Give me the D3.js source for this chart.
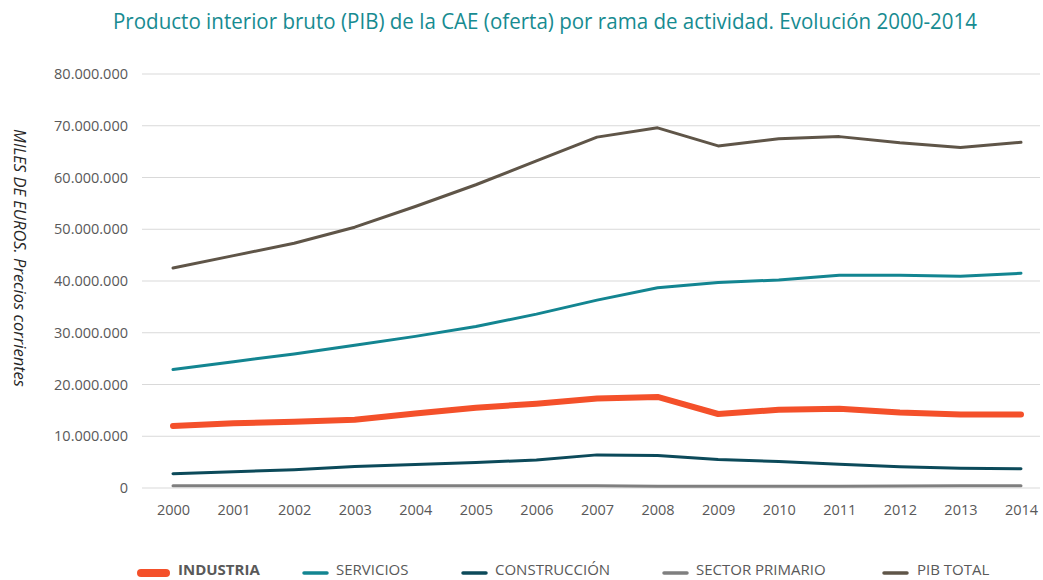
<!DOCTYPE html>
<html><head><meta charset="utf-8">
<script src="https://cdn.jsdelivr.net/npm/d3@7"></script>
<style>
body{margin:0;background:#fff;}
svg text{font-family:"Open Sans",sans-serif;}
</style></head>
<body><svg id="c" width="1043" height="580"></svg>
<script>
const years = [2000,2001,2002,2003,2004,2005,2006,2007,2008,2009,2010,2011,2012,2013,2014];
const industria = [12.0,12.5,12.8,13.2,14.4,15.5,16.3,17.3,17.6,14.3,15.1,15.3,14.6,14.2,14.2].map(v=>v*1e6);
const servicios = [22.9,24.4,25.9,27.6,29.3,31.2,33.6,36.3,38.7,39.7,40.2,41.1,41.1,40.9,41.5].map(v=>v*1e6);
const construccion = [2.77,3.15,3.55,4.15,4.55,4.95,5.4,6.4,6.3,5.5,5.1,4.6,4.1,3.8,3.7].map(v=>v*1e6);
const primario = [0.45,0.45,0.45,0.45,0.45,0.45,0.45,0.42,0.35,0.33,0.34,0.36,0.38,0.42,0.42].map(v=>v*1e6);
const pibTotal = [42.5,44.9,47.3,50.4,54.4,58.6,63.2,67.8,69.6,66.1,67.5,67.9,66.7,65.8,66.8].map(v=>v*1e6);
const yTicks = [0,10e6,20e6,30e6,40e6,50e6,60e6,70e6,80e6];
const seriesNames = ["INDUSTRIA","SERVICIOS","CONSTRUCCIÓN","SECTOR PRIMARIO","PIB TOTAL"];
const seriesValues = [industria, servicios, construccion, primario, pibTotal];
const colors = ["#f4502a","#138591","#0c4a5a","#7f7f7f","#5f5548"];
const widths = [6,3,3,3,3];

const svg = d3.select("#c");
const x = d3.scalePoint().domain(years).range([173,1021]);
const y = d3.scaleLinear().domain([0,80e6]).range([488,74]);
const fmt = v => v===0 ? "0" : d3.format(",")(v).replace(/,/g,".");

// title
svg.append("text").attr("x",545).attr("y",29).attr("text-anchor","middle")
  .attr("fill","#178b91").attr("font-size",21)
  .attr("textLength",864).attr("lengthAdjust","spacingAndGlyphs")
  .text("Producto interior bruto (PIB) de la CAE (oferta) por rama de actividad. Evolución 2000-2014");

// gridlines
svg.append("g").selectAll("line").data(yTicks).join("line")
  .attr("x1",142).attr("x2",1040).attr("y1",d=>y(d)).attr("y2",d=>y(d))
  .attr("stroke","#d9d9d9").attr("stroke-width",1);

// y axis
const ya = svg.append("g").attr("transform","translate(128,0)")
  .call(d3.axisLeft(y).tickValues(yTicks).tickFormat(fmt).tickSize(0).tickPadding(0));
ya.select(".domain").remove();
ya.selectAll("text").attr("fill","#595959").attr("font-size",14.5)
  .style("font-family","'Open Sans',sans-serif");

// x axis
const xa = svg.append("g").attr("transform","translate(0,505)")
  .call(d3.axisBottom(x).tickFormat(d=>String(d)).tickSize(0).tickPadding(0));
xa.select(".domain").remove();
xa.selectAll("text").attr("fill","#595959").attr("font-size",14.5).attr("dy","0.71em")
  .style("font-family","'Open Sans',sans-serif");

// y title
svg.append("text").attr("transform","translate(14,258) rotate(90)")
  .attr("text-anchor","middle").attr("fill","#262626").attr("font-size",16.5)
  .attr("font-style","italic").text("MILES DE EUROS. Precios corrientes");

// lines
const line = d3.line().x((d,i)=>x(years[i])).y(d=>y(d)).curve(d3.curveLinear);
const order = [3,2,1,4,0];
order.forEach(i=>{
  svg.append("path").datum(seriesValues[i]).attr("d",line)
    .attr("fill","none").attr("stroke",colors[i]).attr("stroke-width",widths[i])
    .attr("stroke-linejoin","round").attr("stroke-linecap","round");
});

// legend
const legSwatch = [[141,166],[304,327],[463,486],[664,687],[884,907]];
const legText = [178,336,495,696,917];
const lg = svg.append("g");
seriesNames.forEach((n,i)=>{
  lg.append("line").attr("x1",legSwatch[i][0]).attr("x2",legSwatch[i][1]).attr("y1",573).attr("y2",573)
    .attr("stroke",colors[i]).attr("stroke-width",i===0?8:3.5).attr("stroke-linecap","round");
  lg.append("text").attr("x",legText[i]).attr("y",575)
    .attr("fill","#595959").attr("font-size",15).attr("font-weight",i===0?"bold":"normal")
    .text(n);
});
</script></body></html>
